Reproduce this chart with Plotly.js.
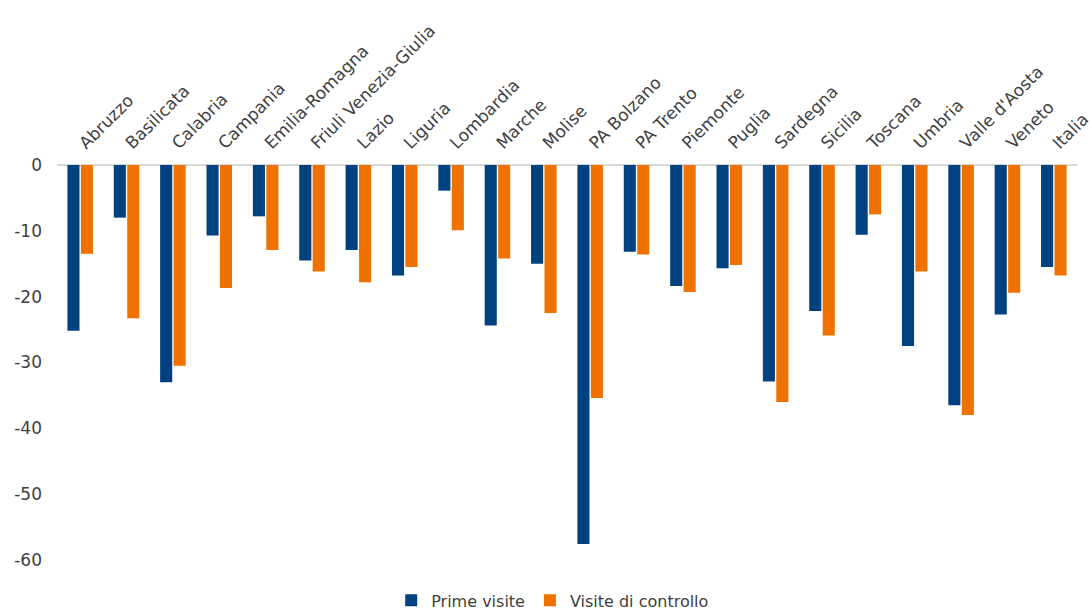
<!DOCTYPE html>
<html>
<head>
<meta charset="utf-8">
<script src="https://cdn.plot.ly/plotly-3.0.1.min.js"></script>
<style>html,body{margin:0;padding:0;background:#fff;}#chart{width:1092px;height:614px;}</style>
</head>
<body>
<div id="chart"></div>
<script>
const regions = ["Abruzzo","Basilicata","Calabria","Campania","Emilia-Romagna","Friuli Venezia-Giulia","Lazio","Liguria","Lombardia","Marche","Molise","PA Bolzano","PA Trento","Piemonte","Puglia","Sardegna","Sicilia","Toscana","Umbria","Valle d'Aosta","Veneto","Italia"];
const primeVisite = [-25.2,-8.0,-33.0,-10.7,-7.8,-14.5,-12.9,-16.8,-3.9,-24.4,-15.0,-57.6,-13.2,-18.4,-15.7,-32.9,-22.2,-10.6,-27.5,-36.5,-22.7,-15.5];
const visiteControllo = [-13.5,-23.3,-30.5,-18.7,-12.9,-16.2,-17.8,-15.5,-9.9,-14.2,-22.5,-35.4,-13.6,-19.3,-15.2,-36.0,-25.9,-7.5,-16.2,-38.0,-19.4,-16.8];
const yTicks = [0,-10,-20,-30,-40,-50,-60];

const fontFam = "DejaVu Sans, sans-serif";
const data = [
  {type:"bar", name:"Prime visite", x:regions, y:primeVisite, marker:{color:"#00427f"}},
  {type:"bar", name:"Visite di controllo", x:regions, y:visiteControllo, marker:{color:"#ef7100"}}
];
const layout = {
  width:1092, height:614,
  margin:{l:57, r:15, t:165, b:39, autoexpand:false},
  paper_bgcolor:"#fff", plot_bgcolor:"#fff",
  barmode:"group", bargap:0.42, bargroupgap:0.1,
  font:{family:fontFam, color:"#404040", size:16},
  xaxis:{side:"top", tickangle:-45, showgrid:false, showline:false, ticks:"", zeroline:false,
         tickfont:{family:fontFam, size:17, color:"#404040"}, ticklabelstandoff:8},
  yaxis:{range:[-62.3,0], tickvals:yTicks, ticktext:yTicks.map(String), showgrid:false,
         zeroline:true, zerolinecolor:"#d9d9d9", zerolinewidth:2, showline:false, ticks:"",
         tickfont:{family:fontFam, size:17, color:"#404040"}, ticklabelstandoff:14},
  showlegend:true,
  legend:{orientation:"h", x:0.486, xanchor:"center", y:-0.062, yanchor:"middle",
          font:{family:fontFam, size:16, color:"#404040"}, traceorder:"normal",
          itemwidth:30, tracegroupgap:0}
};
Plotly.newPlot("chart", data, layout, {displayModeBar:false, staticPlot:true});
</script>
</body>
</html>
